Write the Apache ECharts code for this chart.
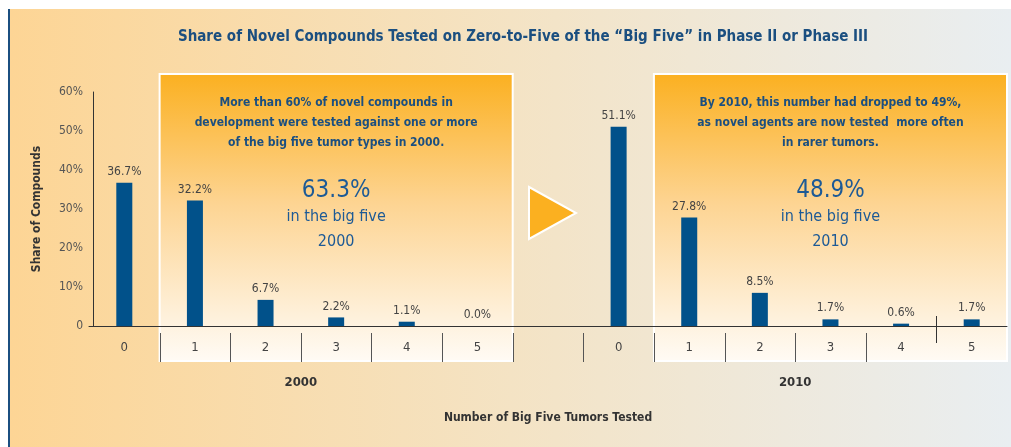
<!DOCTYPE html>
<html>
<head>
<meta charset="utf-8">
<script src="https://cdn.jsdelivr.net/npm/echarts@6/dist/echarts.min.js"></script>
<style>
    body { margin: 0; background: #ffffff; }
    #chart { width: 1011px; height: 447px; }
</style>
</head>
<body>
<div id="chart"></div>
<script>
// 数据
var categories = ['0', '1', '2', '3', '4', '5', '', '0', '1', '2', '3', '4', '5'];
var shares = [36.7, 32.2, 6.7, 2.2, 1.1, 0.0, '-', 51.1, 27.8, 8.5, 1.7, 0.6, 1.7];
var yTicks = [0, 10, 20, 30, 40, 50, 60];
var groupLabels = ['2000', '2010'];
var notes2000 = ['More than 60% of novel compounds in', 'development were tested against one or more', 'of the big five tumor types in 2000.'];
var notes2010 = ['By 2010, this number had dropped to 49%,', 'as novel agents are now tested  more often', 'in rarer tumors.'];
var bigShares = ['63.3%', '48.9%'];

var font = 'DejaVu Sans Condensed, DejaVu Sans, sans-serif';
var navy = '#1b4f80';
var lightNavy = '#1d5a96';

var chart = echarts.init(document.getElementById('chart'));

var option = {
    animation: false,
    title: {
        text: 'Share of Novel Compounds Tested on Zero-to-Five of the \u201cBig Five\u201d in Phase II or Phase III',
        left: 518,
        top: 25,
        textAlign: 'center',
        textStyle: { fontFamily: font, fontSize: 15, fontWeight: 'bold', color: navy }
    },
    grid: { left: 89, right: 4, top: 92, bottom: 121 },
    xAxis: [
        {
            type: 'category',
            data: categories,
            name: 'Number of Big Five Tumors Tested',
            nameLocation: 'middle',
            nameGap: 86,
            nameTextStyle: { fontFamily: font, fontSize: 12, fontWeight: 'bold', color: '#333' },
            axisLine: { lineStyle: { color: '#333', width: 1 } },
            axisTick: { show: false },
            axisLabel: {
                interval: 0,
                margin: 15,
                fontFamily: font,
                fontSize: 13,
                color: '#444'
            }
        }
    ],
    yAxis: {
        type: 'value',
        min: yTicks[0],
        max: yTicks[yTicks.length - 1],
        interval: 10,
        offset: -4,
        name: 'Share of Compounds',
        nameLocation: 'middle',
        nameGap: 50,
        nameTextStyle: { fontFamily: font, fontSize: 12, fontWeight: 'bold', color: '#333' },
        axisLine: { show: true, lineStyle: { color: '#333' } },
        axisTick: { show: false },
        splitLine: { show: false },
        axisLabel: {
            margin: 10,
            fontFamily: font,
            fontSize: 12,
            color: '#555',
            formatter: function (v) { return v === 0 ? '0' : v + '%'; }
        }
    },
    series: [
        {
            type: 'bar',
            data: shares,
            barWidth: 16,
            z: 5,
            itemStyle: { color: '#01518a' },
            label: {
                show: true,
                position: 'top',
                distance: 5,
                fontFamily: font,
                fontSize: 12,
                color: '#444',
                formatter: function (p) { return p.value.toFixed(1) + '%'; }
            }
        }
    ]
};

chart.setOption(option);

// 背景、说明框、箭头、分隔刻度和文字
function drawDecor() {
    var px = function (i) { return chart.convertToPixel({ xAxisIndex: 0 }, i); };
    var slot = px(1) - px(0);
    var left = function (i) { return px(i) - slot / 2; };
    var axisY = chart.convertToPixel({ yAxisIndex: 0 }, 0);
    var boxTop = 74, boxBottom = 361;

    var boxFill = new echarts.graphic.LinearGradient(0, 0, 0, 1, [
        { offset: 0, color: '#fbb020' },
        { offset: 0.45, color: '#fdd492' },
        { offset: 0.85, color: '#fef1dc' },
        { offset: 1, color: '#fffbf5' }
    ]);
    var bgFill = new echarts.graphic.LinearGradient(0, 0, 1, 0, [
        { offset: 0, color: '#fdd595' },
        { offset: 0.5, color: '#f4e3c4' },
        { offset: 1, color: '#e9eef1' }
    ]);

    var graphic = [
        { type: 'rect', z: -20, silent: true, shape: { x: 10, y: 9, width: 1001, height: 438 }, style: { fill: bgFill } },
        { type: 'rect', z: -20, silent: true, shape: { x: 8, y: 9, width: 2, height: 438 }, style: { fill: navy } }
    ];

    var boxes = [
        { from: 1, to: 6, notes: notes2000, big: bigShares[0], year: groupLabels[0] },
        { from: 8, to: 13, notes: notes2010, big: bigShares[1], year: groupLabels[1] }
    ];
    boxes.forEach(function (b) {
        var x0 = left(b.from), x1 = left(b.to);
        var cx = (x0 + x1) / 2;
        graphic.push({
            type: 'rect', z: -10, silent: true,
            shape: { x: x0, y: boxTop, width: x1 - x0, height: boxBottom - boxTop },
            style: { fill: boxFill, stroke: '#ffffff', lineWidth: 2 }
        });
        b.notes.forEach(function (line, k) {
            graphic.push({
                type: 'text', z: 10, silent: true, x: cx, y: 103 + k * 20,
                style: { text: line, align: 'center', verticalAlign: 'middle', fill: navy,
                    font: 'bold 12px ' + font }
            });
        });
        graphic.push({
            type: 'text', z: 10, silent: true, x: cx, y: 191,
            style: { text: b.big, align: 'center', verticalAlign: 'middle', fill: lightNavy, font: '24px ' + font }
        });
        graphic.push({
            type: 'text', z: 10, silent: true, x: cx, y: 217,
            style: { text: 'in the big five', align: 'center', verticalAlign: 'middle', fill: lightNavy, font: '16px ' + font }
        });
        graphic.push({
            type: 'text', z: 10, silent: true, x: cx, y: 242,
            style: { text: b.year, align: 'center', verticalAlign: 'middle', fill: lightNavy, font: '16px ' + font }
        });
    });

    // 分隔刻度：类别 1..11 左边界在轴下方，2010 的 4|5 之间穿过轴线
    for (var i = 1; i <= 11; i++) {
        var tx = Math.round(left(i)) + 0.5;
        graphic.push({
            type: 'line', z: 10, silent: true,
            shape: { x1: tx, y1: axisY + 7, x2: tx, y2: axisY + 36 },
            style: { stroke: '#555', lineWidth: 1 }
        });
    }
    var sx = Math.round(left(12)) + 0.5;
    graphic.push({
        type: 'line', z: 10, silent: true,
        shape: { x1: sx, y1: axisY - 10, x2: sx, y2: axisY + 17 },
        style: { stroke: '#333', lineWidth: 1 }
    });

    // 年份
    [[0, 5], [7, 12]].forEach(function (g, k) {
        graphic.push({
            type: 'text', z: 10, silent: true, x: (px(g[0]) + px(g[1])) / 2, y: 383,
            style: { text: groupLabels[k], align: 'center', verticalAlign: 'middle', fill: '#333', font: 'bold 13px ' + font }
        });
    });

    // 箭头
    var ac = px(6);
    graphic.push({
        type: 'polygon', z: 1, silent: true,
        shape: { points: [[ac - 19, 187], [ac + 28, 213], [ac - 19, 239]] },
        style: { fill: '#fbb020', stroke: '#ffffff', lineWidth: 2 }
    });

    chart.setOption({ graphic: graphic });
}
drawDecor();
</script>
</body>
</html>
